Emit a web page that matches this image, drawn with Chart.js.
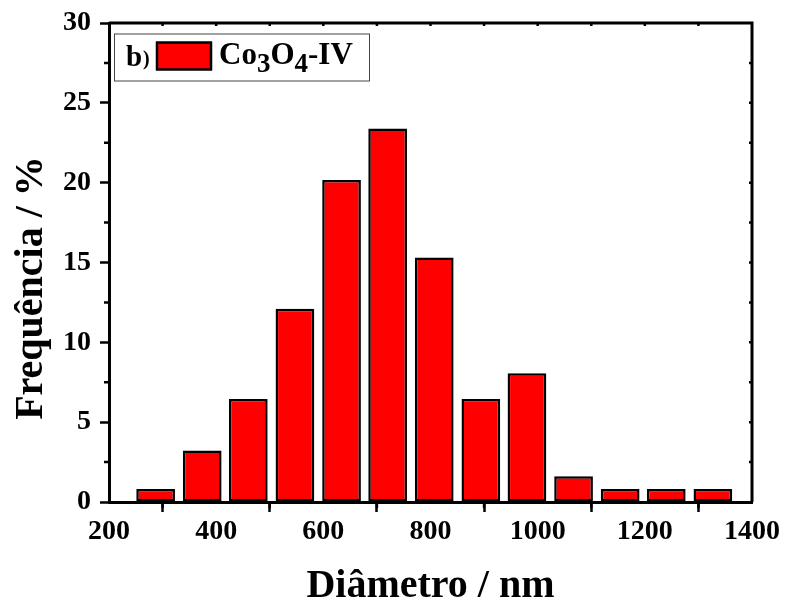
<!DOCTYPE html>
<html>
<head>
<meta charset="utf-8">
<script src="https://cdn.jsdelivr.net/npm/chart.js@4/dist/chart.umd.min.js"></script>
<style>
  body { margin: 0; background: #fff; }
  canvas { display: block; }
</style>
</head>
<body>
<canvas id="histChart" width="786" height="607"></canvas>
<script>
// centro dei bin (nm) e frequenza (%)
var diametri = [287, 374, 460, 547, 634, 720, 807, 894, 980, 1067, 1154, 1240, 1327];
var frequenze = [0.81, 3.23, 6.45, 12.10, 20.16, 23.39, 15.32, 6.45, 8.06, 1.61, 0.81, 0.81, 0.81];
var xTicks = [200, 400, 600, 800, 1000, 1200, 1400];
var yTicks = [0, 5, 10, 15, 20, 25, 30];
var titoloX = "Diâmetro / nm";
var titoloY = "Frequência / %";
var etichettaPannello = "b)";
var etichettaSerie = [["Co", false], ["3", true], ["O", false], ["4", true], ["-IV", false]];

var FONT = "'Liberation Serif', 'Times New Roman', serif";

function init() {
  printHistogram();
}

// assi: minor ticks + bordo sopra/destra + titolo y + legenda
var framePlugin = {
  id: "frame",
  afterDraw: function(chart) {
    var ctx = chart.ctx;
    var a = chart.chartArea;
    var xs = chart.scales.x;
    var ys = chart.scales.y;
    ctx.save();
    ctx.strokeStyle = "#000";
    ctx.lineWidth = 3;
    ctx.beginPath();
    ctx.moveTo(a.left, a.top);
    ctx.lineTo(a.right, a.top);
    ctx.lineTo(a.right, a.bottom);
    ctx.stroke();

    ctx.lineWidth = 2.5;
    ctx.beginPath();
    // minor x sotto, tick sopra
    for (var i = 0; i < xTicks.length - 1; i++) {
      var mid = (xTicks[i] + xTicks[i + 1]) / 2;
      var px = xs.getPixelForValue(mid);
      ctx.moveTo(px, a.bottom);
      ctx.lineTo(px, a.bottom + 6);
    }
    for (var v = xTicks[0] + 100; v < xTicks[xTicks.length - 1]; v += 100) {
      var p = xs.getPixelForValue(v);
      ctx.moveTo(p, a.top);
      ctx.lineTo(p, a.top + 3);
    }
    // minor y a sinistra, tick a destra
    for (var j = 0; j < yTicks.length - 1; j++) {
      var midY = (yTicks[j] + yTicks[j + 1]) / 2;
      var py = ys.getPixelForValue(midY);
      ctx.moveTo(a.left, py);
      ctx.lineTo(a.left - 5, py);
    }
    for (var w = 2.5; w < 30; w += 2.5) {
      var q = ys.getPixelForValue(w);
      ctx.moveTo(a.right, q);
      ctx.lineTo(a.right - 3, q);
    }
    ctx.stroke();

    // titolo asse y (spostato un po' in basso come nell'originale)
    ctx.save();
    ctx.translate(42, 288);
    ctx.rotate(-Math.PI / 2);
    ctx.fillStyle = "#000";
    ctx.font = "bold 40px " + FONT;
    ctx.textAlign = "center";
    ctx.textBaseline = "alphabetic";
    ctx.fillText(titoloY, 0, 0);
    ctx.restore();

    // legenda
    var lx = a.left + 5, ly = a.top + 10.5;
    ctx.lineWidth = 1;
    ctx.strokeStyle = "#444";
    ctx.strokeRect(lx + 0.5, ly + 0.5, 255, 47);
    ctx.fillStyle = "#000";
    ctx.textBaseline = "alphabetic";
    ctx.textAlign = "left";
    ctx.font = "bold 29px " + FONT;
    ctx.fillText(etichettaPannello.charAt(0), lx + 12, ly + 32);
    ctx.font = "bold 20px " + FONT;
    ctx.fillText(etichettaPannello.charAt(1), lx + 29, ly + 31);

    var ds = chart.data.datasets[0];
    ctx.fillStyle = ds.backgroundColor;
    ctx.fillRect(lx + 43, ly + 9, 54, 27);
    ctx.lineWidth = 2.5;
    ctx.strokeStyle = "#000";
    ctx.strokeRect(lx + 43, ly + 9, 54, 27);

    ctx.fillStyle = "#000";
    var tx = lx + 105;
    etichettaSerie.forEach(function(part) {
      if (part[1]) {
        ctx.font = "bold 27px " + FONT;
        ctx.fillText(part[0], tx, ly + 38);
      } else {
        ctx.font = "bold 31px " + FONT;
        ctx.fillText(part[0], tx, ly + 30);
      }
      tx += ctx.measureText(part[0]).width;
    });
    ctx.restore();
  }
};

function printHistogram() {
  var punti = diametri.map(function(d, i) {
    return { x: d, y: frequenze[i] };
  });

  var ctx = document.getElementById("histChart").getContext("2d");
  new Chart(ctx, {
    type: "bar",
    data: {
      datasets: [{
        label: "Co3O4-IV",
        data: punti,
        backgroundColor: "#ff0000",
        borderColor: "#000000",
        borderWidth: 2.5,
        borderSkipped: false,
        categoryPercentage: 1.0,
        barPercentage: 0.84
      }]
    },
    options: {
      responsive: false,
      animation: false,
      layout: { padding: { left: 0, top: 23, right: 34, bottom: 0 } },
      plugins: {
        legend: { display: false },
        tooltip: { enabled: false }
      },
      scales: {
        x: {
          type: "linear",
          offset: false,
          min: 200,
          max: 1400,
          afterBuildTicks: function(scale) {
            scale.ticks = xTicks.map(function(v) { return { value: v }; });
          },
          afterFit: function(scale) { scale.height = 105; },
          grid: {
            drawOnChartArea: false,
            drawTicks: true,
            tickLength: 10,
            tickWidth: 2.5,
            tickColor: "#000"
          },
          border: { display: true, color: "#000", width: 3 },
          ticks: {
            color: "#000",
            padding: 3,
            maxRotation: 0,
            autoSkip: false,
            callback: function(value) { return String(value); },
            font: { family: FONT, size: 28, weight: "bold" }
          },
          title: {
            display: true,
            text: titoloX,
            color: "#000",
            padding: { top: 0, bottom: 0 },
            font: { family: FONT, size: 40, weight: "bold", lineHeight: 1 }
          }
        },
        y: {
          min: 0,
          max: 30,
          afterBuildTicks: function(scale) {
            scale.ticks = yTicks.map(function(v) { return { value: v }; });
          },
          afterFit: function(scale) {
            scale.width = 109;
            scale.paddingTop = 0;
            scale.paddingBottom = 0;
          },
          grid: {
            drawOnChartArea: false,
            drawTicks: true,
            tickLength: 9,
            tickWidth: 2.5,
            tickColor: "#000"
          },
          border: { display: true, color: "#000", width: 3 },
          ticks: {
            color: "#000",
            padding: 9,
            autoSkip: false,
            callback: function(value) { return String(value); },
            font: { family: FONT, size: 28, weight: "bold" }
          }
        }
      }
    },
    plugins: [framePlugin]
  });
}

init();
</script>
</body>
</html>
